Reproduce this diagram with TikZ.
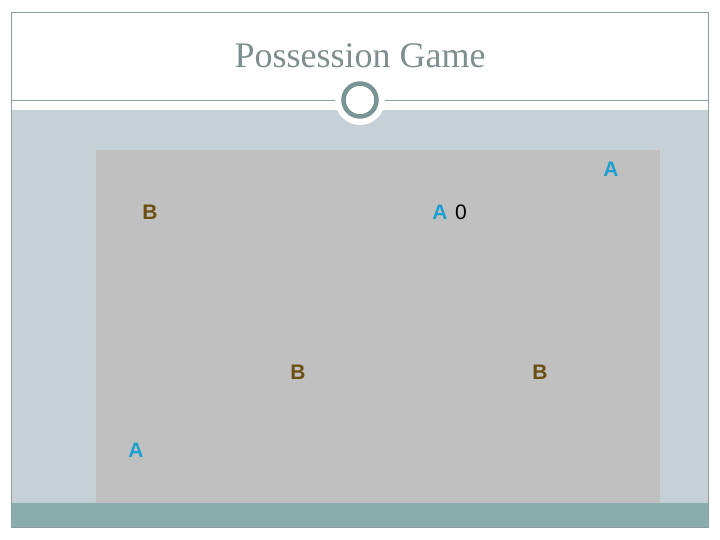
\documentclass[tikz,border=0pt]{standalone}
\usepackage{fontspec}
\setmainfont{Liberation Serif}
\newfontfamily\lsans{Liberation Sans}
\definecolor{bgband}{HTML}{C5D1D7}
\definecolor{panel}{HTML}{C0C0C0}
\definecolor{foot}{HTML}{8AACAD}
\definecolor{frame}{HTML}{8A9EA0}
\definecolor{titlec}{HTML}{7F8F8F}
\definecolor{ringc}{HTML}{7B9394}
\definecolor{acol}{HTML}{1E9FCF}
\definecolor{bcol}{HTML}{6B4F10}
\tikzset{
  lbl/.style={font=\lsans\bfseries\fontsize{21}{24}\selectfont, inner sep=0pt, anchor=base},
  alab/.style={lbl, text=acol},
  blab/.style={lbl, text=bcol},
  zlab/.style={font=\lsans\fontsize{21}{24}\selectfont, inner sep=0pt, anchor=base, text=black}
}
\begin{document}
\begin{tikzpicture}[x=1pt,y=-1pt]
\useasboundingbox (0,0) rectangle (720,540);
\fill[white] (0,0) rectangle (720,540);
% bands
\fill[bgband] (11,110) rectangle (708,503);
\fill[panel] (96,150) rectangle (660,503);
\fill[foot] (11,503) rectangle (708,527);
\draw[frame, line width=0.8pt] (11,12) rectangle (708,527);
\draw[frame, line width=0.8pt] (11,100) -- (708,100);
% title
\node[font=\fontsize{36}{40}\selectfont, text=titlec, anchor=base] (title) at (360,68) {Possession Game};
% ring
\fill[white] (360,100) circle (25);
\draw[ringc, line width=4.5pt] (360,100) circle (16.5);
% labels
\node[alab] (a1) at (611,177) {A};
\node[blab] (b1) at (150,219) {B};
\node[alab] (a2) at (440,219) {A};
\node[zlab] (z1) at (461,219) {0};
\node[blab] (b2) at (298,379) {B};
\node[blab] (b3) at (540,379) {B};
\node[alab] (a3) at (136,457) {A};
\end{tikzpicture}
\end{document}
